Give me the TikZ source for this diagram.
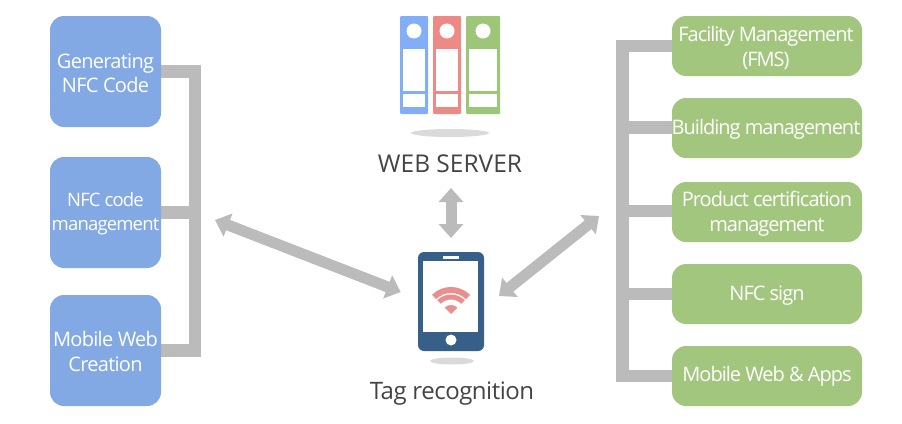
\documentclass[tikz,border=0pt]{standalone}
\usepackage{fontspec}
\setmainfont{Open Sans}
\usetikzlibrary{arrows.meta,calc}
\definecolor{boxblue}{HTML}{82A9E3}
\definecolor{boxgreen}{HTML}{A3C67F}
\definecolor{barcol}{HTML}{BBBBBB}
\definecolor{srvblue}{HTML}{82ADF7}
\definecolor{srvred}{HTML}{EE8A85}
\definecolor{srvgreen}{HTML}{9DC679}
\definecolor{phonecol}{HTML}{376088}
\definecolor{wificol}{HTML}{E98F8D}
\definecolor{shadowcol}{HTML}{DADADA}
\definecolor{labelcol}{HTML}{444444}
\tikzset{
  boxtext/.style={text=white,align=center,inner sep=0pt},
  leftbox/.style={fill=boxblue,rounded corners=14pt,minimum width=111pt,minimum height=111pt,inner sep=0pt},
  lefttext/.style={boxtext,font=\fontsize{20}{24.5}\selectfont\addfontfeature{LetterSpace=-3.5}},
  smalltext/.style={boxtext,font=\fontsize{18.5}{24.5}\selectfont\addfontfeature{LetterSpace=-4.5}},
  rightbox/.style={fill=boxgreen,rounded corners=14pt,minimum width=190pt,minimum height=60pt,inner sep=0pt},
  righttext/.style={boxtext,font=\fontsize{20}{25}\selectfont\addfontfeature{LetterSpace=-5}},
  bar/.style={draw=barcol,line width=12.5pt,line join=miter},
  twoway/.style={draw=barcol,line width=11pt,{Triangle[width=24pt,length=14pt]}-{Triangle[width=24pt,length=14pt]}},
  binder/.style={rounded corners=1pt},
  caption/.style={text=labelcol,inner sep=0pt,anchor=base}
}
\begin{document}
\begin{tikzpicture}[x=1pt,y=-1pt]
\useasboundingbox (0,0) rectangle (902,423);
% buses
\coordinate (lbus) at (195,0);
\coordinate (rbus) at (622.5,0);
\coordinate (a1pt) at (161,71.5);
\coordinate (a2pt) at (161,212.5);
\coordinate (a3pt) at (161,350.5);
\coordinate (b1pt) at (672,46);
\coordinate (b2pt) at (672,127.5);
\coordinate (b3pt) at (672,211);
\coordinate (b4pt) at (672,294);
\coordinate (b5pt) at (672,376);
\draw[bar] (a1pt) -| (a3pt -| lbus) -- (a3pt);
\draw[bar] (a2pt) -- (a2pt -| lbus);
\draw[bar] (b1pt) -| (b5pt -| rbus) -- (b5pt);
\draw[bar] (b2pt) -- (b2pt -| rbus);
\draw[bar] (b3pt) -- (b3pt -| rbus);
\draw[bar] (b4pt) -- (b4pt -| rbus);
% left boxes
\node[leftbox] (a1) at (105.5,71.5) {};
\node[lefttext] (a1t) at (105.5,73.5) {Generating\\NFC Code};
\node[leftbox] (a2) at (105.5,212.5) {};
\node[smalltext] (a2t) at (105.5,213.5) {NFC code\\management};
\node[leftbox] (a3) at (105.5,350.5) {};
\node[lefttext] (a3t) at (105.5,351.5) {Mobile Web\\Creation};
% right boxes
\node[rightbox] (b1) at (767,46) {};
\node[righttext] (b1t) at (766,47.5) {Facility Management\\(FMS)};
\node[rightbox] (b2) at (767,128) {};
\node[righttext] (b2t) at (766,129.5) {Building management};
\node[rightbox] (b3) at (767,212) {};
\node[righttext] (b3t) at (767,213.5) {Product certification\\management};
\node[rightbox] (b4) at (767,294) {};
\node[righttext] (b4t) at (767,295.5) {NFC sign};
\node[rightbox] (b5) at (767,376) {};
\node[righttext] (b5t) at (767,376.5) {Mobile Web \& Apps};
% server icon
\foreach \xa/\xb/\col/\ca in {400/428/srvblue/414,433/461/srvred/447,466/500/srvgreen/483}{
  \fill[\col,binder] (\xa,16) rectangle (\xb,114);
  \fill[white] (\ca,31) circle (7.5);
  \fill[white] ({\xa+3},49) rectangle ({\xb-3},91);
  \fill[white] ({\xa+3},94) rectangle ({\xb-3},107);
}
\fill[shadowcol] (450,133) ellipse (39 and 4);
\node[caption,font=\fontsize{24.5}{28}\selectfont] (ws) at (450,172) {WEB SERVER};
% phone
\fill[phonecol,rounded corners=6pt] (418,252) rectangle (484,351);
\fill[white] (423,261) rectangle (478,332);
\fill[white] (443,256) rectangle (459,258.5);
\fill[white] (451,340) circle (5.5);
\fill[shadowcol] (452,361) ellipse (22 and 3.5);
\coordinate (tip) at (451,314);
\fill[wificol] ($(tip)+(-45:27)$) arc (-45:-135:27) -- ($(tip)+(-135:21)$) arc (-135:-45:21) -- cycle;
\fill[wificol] ($(tip)+(-45:19.5)$) arc (-45:-135:19.5) -- ($(tip)+(-135:14.5)$) arc (-135:-45:14.5) -- cycle;
\fill[wificol] (tip) -- ($(tip)+(-135:9)$) arc (-135:-45:9) -- cycle;
\node[caption,font=\fontsize{24}{28}\selectfont\addfontfeature{LetterSpace=-2}] (tr) at (452,399) {Tag recognition};
% arrows
\coordinate (v1) at (451,188);
\coordinate (v2) at (451,238);
\coordinate (l1) at (215,220);
\coordinate (l2) at (400.7,292);
\coordinate (r1) at (599,216);
\coordinate (r2) at (499,296);
\draw[twoway] (v1) -- (v2);
\draw[twoway] (l1) -- (l2);
\draw[twoway] (r1) -- (r2);
\end{tikzpicture}
\end{document}
